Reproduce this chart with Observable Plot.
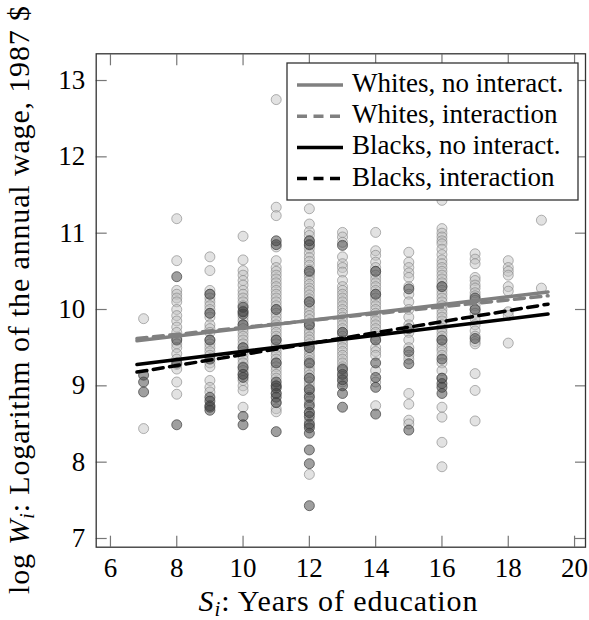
<!DOCTYPE html>
<html><head><meta charset="utf-8">
<script src="https://cdn.jsdelivr.net/npm/d3@7"></script>
<script src="https://cdn.jsdelivr.net/npm/@observablehq/plot@0.6"></script>
<style>
html,body{margin:0;padding:0;background:#fff;}
#chart{position:relative;width:589px;height:620px;}
</style></head><body><div id="chart"></div>
<script>
const FONT = "'Liberation Serif', 'Times New Roman', serif";

// Years of education (x categories)
const years = [7, 8, 9, 10, 11, 12, 13, 14, 15, 16, 17, 18, 19];

// log wages, whites, per schooling year
const w7  = [9.88, 8.44];
const w8  = [11.19, 10.64, 10.25, 10.2, 10.15, 10.1, 10.0, 9.92, 9.85, 9.77, 9.7, 9.62, 9.55, 9.5, 9.42, 9.35, 9.28, 9.22, 9.05, 8.89];
const w9  = [10.69, 10.51, 10.25, 10.2, 10.15, 10.1, 10.05, 10.0, 9.95, 9.9, 9.8, 9.75, 9.7, 9.6, 9.55, 9.5, 9.45, 9.4, 9.3, 9.25, 9.07, 8.98, 8.92];
const w10 = [10.96, 10.65, 10.51, 10.45, 10.38, 10.32, 10.25, 10.2, 10.15, 10.1, 10.05, 9.98, 9.9, 9.85, 9.8, 9.75, 9.7, 9.65, 9.6, 9.55, 9.5, 9.45, 9.4, 9.35, 9.3, 9.25, 9.2, 9.15, 9.07, 9.0, 8.94, 8.72];
const w11 = [12.75, 11.34, 11.23, 10.82, 10.64, 10.55, 10.5, 10.45, 10.4, 10.35, 10.3, 10.25, 10.2, 10.15, 10.1, 10.05, 10.0, 9.95, 9.9, 9.85, 9.8, 9.75, 9.7, 9.65, 9.6, 9.55, 9.5, 9.45, 9.4, 9.35, 9.3, 9.25, 9.2, 9.15, 9.1, 9.0, 8.9, 8.78, 8.7, 8.66];
const w12 = [11.32, 11.12, 11.02, 10.97, 10.9, 10.84, 10.8, 10.74, 10.68, 10.63, 10.58, 10.52, 10.47, 10.43, 10.38, 10.33, 10.28, 10.24, 10.19, 10.14, 10.1, 10.05, 10.01, 9.96, 9.92, 9.87, 9.82, 9.78, 9.73, 9.69, 9.64, 9.6, 9.55, 9.51, 9.46, 9.41, 9.37, 9.33, 9.28, 9.23, 9.19, 9.14, 9.1, 9.05, 9.0, 8.96, 8.91, 8.87, 8.8, 8.72, 8.65, 8.55, 8.48, 7.84];
const w13 = [11.01, 10.95, 10.88, 10.69, 10.6, 10.55, 10.49, 10.38, 10.3, 10.25, 10.2, 10.15, 10.1, 10.05, 10.0, 9.95, 9.9, 9.85, 9.8, 9.75, 9.7, 9.65, 9.6, 9.55, 9.5, 9.45, 9.4, 9.35, 9.3, 9.25, 9.2, 9.12, 9.05];
const w14 = [11.01, 10.77, 10.71, 10.62, 10.55, 10.5, 10.45, 10.4, 10.35, 10.3, 10.25, 10.2, 10.15, 10.1, 10.05, 10.0, 9.95, 9.9, 9.85, 9.8, 9.75, 9.7, 9.65, 9.6, 9.5, 9.45, 9.4, 9.2, 9.05, 8.74];
const w15 = [10.75, 10.62, 10.55, 10.48, 10.42, 10.3, 10.2, 10.1, 10.0, 9.9, 9.8, 9.7, 9.6, 9.5, 9.4, 9.35, 8.9, 8.76, 8.55, 8.5];
const w16 = [11.43, 11.06, 11.0, 10.95, 10.9, 10.86, 10.79, 10.72, 10.65, 10.6, 10.55, 10.5, 10.45, 10.4, 10.35, 10.3, 10.25, 10.2, 10.15, 10.1, 10.05, 10.0, 9.95, 9.9, 9.85, 9.8, 9.75, 9.7, 9.65, 9.6, 9.55, 9.5, 9.46, 9.4, 9.3, 9.2, 9.1, 8.72, 8.59, 8.26, 7.94];
const w17 = [10.73, 10.66, 10.6, 10.42, 10.38, 10.32, 10.28, 10.22, 10.18, 10.12, 10.05, 10.0, 9.95, 9.88, 9.8, 9.72, 9.65, 9.58, 9.55, 9.16, 8.94, 8.54];
const w18 = [10.64, 10.55, 10.5, 10.45, 10.3, 10.24, 9.97, 9.92, 9.56];
const w19 = [11.17, 10.28];

// log wages, blacks, per schooling year
const b7  = [9.14, 9.05, 8.92];
const b8  = [10.43, 9.6, 9.3, 8.49];
const b9  = [10.2, 9.95, 9.6, 9.35, 8.85, 8.8, 8.74, 8.68, 8.72];
const b10 = [10.03, 9.97, 9.94, 9.8, 9.5, 9.24, 9.15, 9.11, 8.6, 8.49];
const b11 = [10.9, 10.85, 10.0, 9.6, 9.3, 9.05, 9.0, 8.97, 8.9, 8.85, 8.78, 8.4];
const b12 = [10.9, 10.85, 10.5, 10.1, 9.8, 9.5, 9.3, 9.1, 8.95, 8.85, 8.75, 8.65, 8.6, 8.5, 8.45, 8.38, 8.16, 7.98, 7.43];
const b13 = [10.84, 9.7, 9.22, 9.15, 9.08, 9.0, 8.9, 8.72];
const b14 = [10.5, 10.2, 9.6, 9.3, 9.11, 8.98, 8.63];
const b15 = [10.27, 9.75, 9.45, 9.29, 8.42];
const b16 = [10.3, 9.6, 9.35, 9.1, 9.03, 8.98, 8.9];
const b17 = [10.15, 10.0, 9.62];
const b18 = [];
const b19 = [];

// fitted lines (endpoints)
const fitYears = [6.8, 19.2];
const whitesNoInteract = [9.59, 10.23];
const whitesInteract   = [9.62, 10.18];
const blacksNoInteract = [9.28, 9.94];
const blacksInteract   = [9.18, 10.07];

const xTicks = [6, 8, 10, 12, 14, 16, 18, 20];
const yTicks = [7, 8, 9, 10, 11, 12, 13];
const legendLabels = ["Whites, no interact.", "Whites, interaction", "Blacks, no interact.", "Blacks, interaction"];

const whiteCols = [w7, w8, w9, w10, w11, w12, w13, w14, w15, w16, w17, w18, w19];
const blackCols = [b7, b8, b9, b10, b11, b12, b13, b14, b15, b16, b17, b18, b19];
const whites = years.flatMap((s, i) => whiteCols[i].map(w => ({s, w})));
const blacks = years.flatMap((s, i) => blackCols[i].map(w => ({s, w})));
const fitSeries = [whitesNoInteract, whitesInteract, blacksNoInteract, blacksInteract];
const fits = fitSeries.map(v => fitYears.map((s, j) => ({s, w: v[j]})));

const styles = [
  {stroke: "#808080", dash: null},
  {stroke: "#808080", dash: "10,6.5"},
  {stroke: "#000000", dash: null},
  {stroke: "#000000", dash: "10,6.5"}
];

const plot = Plot.plot({
  width: 589, height: 620,
  marginLeft: 95.7, marginRight: 4, marginTop: 53.3, marginBottom: 73.3,
  style: {fontFamily: FONT, fontSize: "27px", color: "#000", background: "#fff", overflow: "visible"},
  x: {domain: [5.57, 20.33]},
  y: {domain: [6.886, 13.35]},
  marks: [
    Plot.dot(whites, {x: "s", y: "w", r: 5, fill: "#bfbfbf", fillOpacity: 0.45, stroke: "#808080", strokeOpacity: 0.6, strokeWidth: 1}),
    Plot.dot(blacks, {x: "s", y: "w", r: 5, fill: "#404040", fillOpacity: 0.5, stroke: "#404040", strokeOpacity: 0.7, strokeWidth: 1}),
    ...fits.map((f, i) => Plot.line(f, {x: "s", y: "w", stroke: styles[i].stroke, strokeWidth: 3.5, strokeDasharray: styles[i].dash})),
    Plot.axisX(xTicks, {anchor: "bottom", tickSize: 0, tickPadding: 11, label: null, fontSize: 27, tickFormat: d => String(d)}),
    Plot.axisX(xTicks, {anchor: "bottom", tickSize: -11, tickFormat: () => "", label: null, stroke: "#777", strokeWidth: 1.2}),
    Plot.axisX(xTicks, {anchor: "top", tickSize: -11, tickFormat: () => "", label: null, stroke: "#777", strokeWidth: 1.2}),
    Plot.axisY(yTicks, {anchor: "left", tickSize: 0, tickPadding: 11, label: null, fontSize: 27, tickFormat: d => String(d)}),
    Plot.axisY(yTicks, {anchor: "left", tickSize: -11, tickFormat: () => "", label: null, stroke: "#777", strokeWidth: 1.2}),
    Plot.axisY(yTicks, {anchor: "right", tickSize: -11, tickFormat: () => "", label: null, stroke: "#777", strokeWidth: 1.2}),
    Plot.frame({stroke: "#333", strokeWidth: 1.3})
  ]
});

document.getElementById("chart").appendChild(plot);
const svg = d3.select(plot);

// Axis titles
const yt = svg.append("text")
  .attr("transform", "translate(29,300) rotate(-90)")
  .attr("text-anchor", "middle")
  .attr("textLength", 588).attr("lengthAdjust", "spacing")
  .style("font-family", FONT).style("font-size", "30px").attr("fill", "#000");
yt.append("tspan").text("log ");
yt.append("tspan").attr("font-style", "italic").text("W");
yt.append("tspan").attr("font-style", "italic").attr("font-size", "21px").attr("dy", 5).text("i");
yt.append("tspan").attr("dy", -5).text(": Logarithm of the annual wage, 1987 $");

const xt = svg.append("text")
  .attr("x", 338).attr("y", 611)
  .attr("text-anchor", "middle")
  .attr("textLength", 279).attr("lengthAdjust", "spacing")
  .style("font-family", FONT).style("font-size", "30px").attr("fill", "#000");
xt.append("tspan").attr("font-style", "italic").text("S");
xt.append("tspan").attr("font-style", "italic").attr("font-size", "21px").attr("dy", 5).text("i");
xt.append("tspan").attr("dy", -5).text(": Years of education");

// Legend
const lg = svg.append("g");
lg.append("rect").attr("x", 287).attr("y", 63).attr("width", 291).attr("height", 137)
  .attr("fill", "#fff").attr("stroke", "#333").attr("stroke-width", 1.3);
legendLabels.forEach((lab, i) => {
  const y = 85 + i * 31.2;
  lg.append("line").attr("x1", 297).attr("x2", 343).attr("y1", y).attr("y2", y)
    .attr("stroke", styles[i].stroke).attr("stroke-width", 3.5)
    .attr("stroke-dasharray", styles[i].dash);
  lg.append("text").attr("x", 352).attr("y", y + 7).attr("text-anchor", "start")
    .style("font-family", FONT).style("font-size", "27px").attr("fill", "#000").text(lab);
});
</script></body></html>
